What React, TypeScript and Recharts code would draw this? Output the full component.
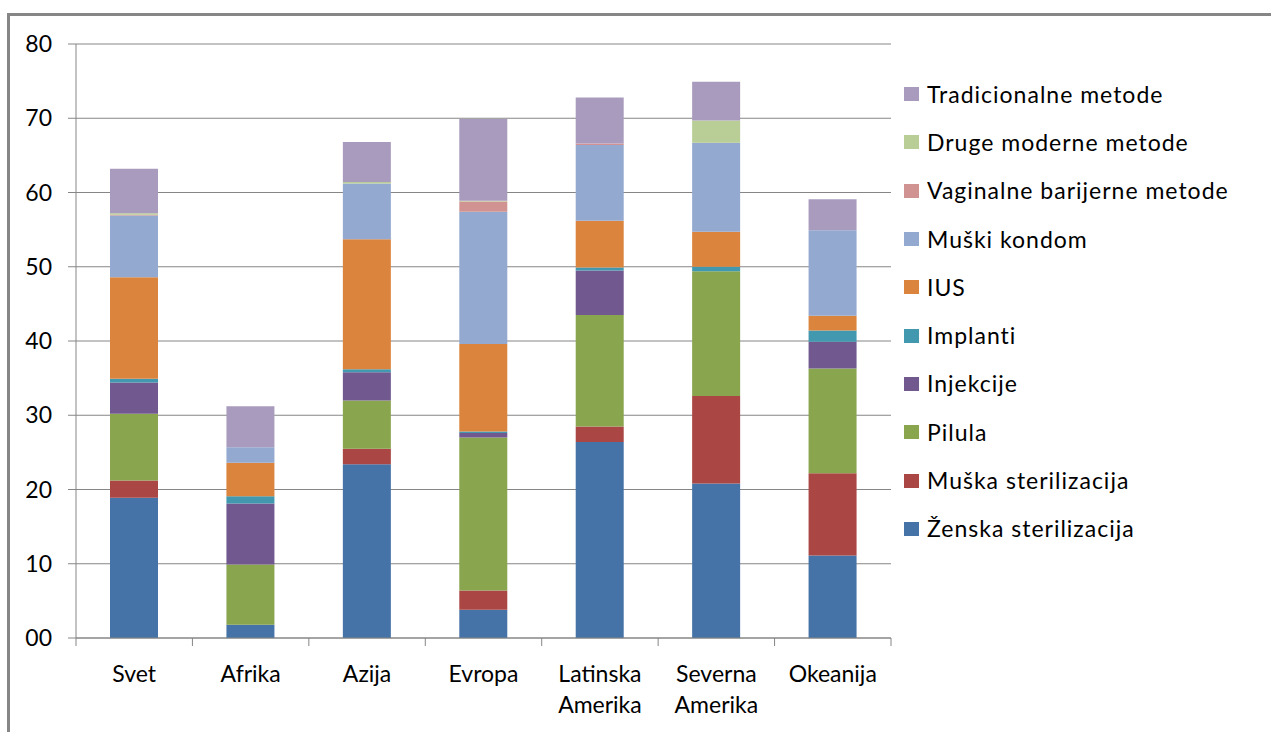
import React from 'react';
import { BarChart, Bar, XAxis, YAxis, CartesianGrid } from 'recharts';

// Regions on the category axis
const categories = ['Svet', 'Afrika', 'Azija', 'Evropa', 'Latinska Amerika', 'Severna Amerika', 'Okeanija'];

// Share of users by method, one value per region (stacked bottom to top)
const zenskaSterilizacija = [18.9, 1.8, 23.4, 3.8, 26.4, 20.8, 11.1];
const muskaSterilizacija = [2.3, 0, 2.1, 2.6, 2.1, 11.8, 11.1];
const pilula = [9.0, 8.1, 6.5, 20.6, 15.0, 16.8, 14.1];
const injekcije = [4.2, 8.2, 3.8, 0.6, 6.0, 0, 3.6];
const implanti = [0.5, 1.0, 0.4, 0.2, 0.4, 0.6, 1.5];
const ius = [13.7, 4.5, 17.5, 11.8, 6.3, 4.7, 2.0];
const muskiKondom = [8.3, 2.1, 7.5, 17.8, 10.2, 12.0, 11.5];
const vaginalneBarijerne = [0.1, 0, 0, 1.4, 0.2, 0, 0];
const drugeModerne = [0.2, 0, 0.2, 0.1, 0, 3.0, 0];
const tradicionalne = [6.0, 5.5, 5.4, 11.0, 6.2, 5.2, 4.2];

// Value axis ticks and their printed labels
const yTicks = [0, 10, 20, 30, 40, 50, 60, 70, 80];
const yTickLabels = ['00', '10', '20', '30', '40', '50', '60', '70', '80'];

const series = [
  { key: 'zenska', name: 'Ženska sterilizacija', values: zenskaSterilizacija, color: '#4572A7' },
  { key: 'muska', name: 'Muška sterilizacija', values: muskaSterilizacija, color: '#AA4643' },
  { key: 'pilula', name: 'Pilula', values: pilula, color: '#89A54E' },
  { key: 'injekcije', name: 'Injekcije', values: injekcije, color: '#71588F' },
  { key: 'implanti', name: 'Implanti', values: implanti, color: '#4198AF' },
  { key: 'ius', name: 'IUS', values: ius, color: '#DB843D' },
  { key: 'kondom', name: 'Muški kondom', values: muskiKondom, color: '#93A9CF' },
  { key: 'vaginalne', name: 'Vaginalne barijerne metode', values: vaginalneBarijerne, color: '#D19392' },
  { key: 'druge', name: 'Druge moderne metode', values: drugeModerne, color: '#B9CD96' },
  { key: 'tradicionalne', name: 'Tradicionalne metode', values: tradicionalne, color: '#A99BBD' },
];

const data = categories.map((name, i) => {
  const row: Record<string, string | number> = { name };
  series.forEach((s) => {
    row[s.key] = s.values[i];
  });
  return row;
});

const WIDTH = 1271;
const HEIGHT = 732;
const MARGIN = { top: 44, right: 380, left: 16, bottom: 0 };
const Y_AXIS_W = 60;
const X_AXIS_H = 94;
const PLOT_W = WIDTH - MARGIN.left - Y_AXIS_W - MARGIN.right;
const BAND = PLOT_W / categories.length;
const AXIS_COLOR = '#868686';
const FONT = 'Lato, "Open Sans", sans-serif';
const FONT_SIZE = 23;

const CategoryTick = (props: any) => {
  const { x, y, payload, index } = props;
  const half = BAND / 2;
  const words = String(payload.value).split(' ');
  const isLast = index === categories.length - 1;
  return (
    <g>
      <line x1={x - half} x2={x - half} y1={y} y2={y + 8} stroke={AXIS_COLOR} strokeWidth={1} />
      {isLast && <line x1={x + half} x2={x + half} y1={y} y2={y + 8} stroke={AXIS_COLOR} strokeWidth={1} />}
      {words.map((w, i) => (
        <text
          key={i}
          x={x}
          y={y + 44 + i * 31}
          textAnchor="middle"
          fill="#000"
          fontSize={FONT_SIZE}
          fontFamily={FONT}
        >
          {w}
        </text>
      ))}
    </g>
  );
};

const legendItems = [...series].reverse();

export default function App() {
  return (
    <div
      style={{
        position: 'fixed',
        left: 0,
        top: 0,
        width: WIDTH,
        height: HEIGHT,
        background: '#fff',
        overflow: 'hidden',
        fontFamily: FONT,
      }}
    >
      <div
        style={{
          position: 'absolute',
          left: 7,
          top: 13,
          width: WIDTH,
          height: HEIGHT,
          borderLeft: `3px solid ${AXIS_COLOR}`,
          borderTop: `3px solid ${AXIS_COLOR}`,
        }}
      />
      <div style={{ position: 'absolute', left: 0, top: 0 }}>
        <BarChart width={WIDTH} height={HEIGHT} data={data} margin={MARGIN}>
          <CartesianGrid horizontal vertical={false} stroke={AXIS_COLOR} strokeWidth={1} />
          <XAxis
            dataKey="name"
            height={X_AXIS_H}
            interval={0}
            tickLine={false}
            tickSize={0}
            tickMargin={0}
            axisLine={{ stroke: AXIS_COLOR, strokeWidth: 1 }}
            tick={<CategoryTick />}
          />
          <YAxis
            width={Y_AXIS_W}
            domain={[0, 80]}
            ticks={yTicks}
            interval={0}
            tickSize={8}
            tickMargin={16}
            axisLine={{ stroke: AXIS_COLOR, strokeWidth: 1 }}
            tickLine={{ stroke: AXIS_COLOR, strokeWidth: 1 }}
            tick={{ fill: '#000', fontSize: FONT_SIZE, fontFamily: FONT }}
            tickFormatter={(v: number) => yTickLabels[yTicks.indexOf(v)]}
          />
          {series.map((s) => (
            <Bar
              key={s.key}
              dataKey={s.key}
              name={s.name}
              stackId="methods"
              fill={s.color}
              barSize={48}
              isAnimationActive={false}
            />
          ))}
        </BarChart>
      </div>
      <div style={{ position: 'absolute', left: 904, top: 70 }}>
        {legendItems.map((s) => (
          <div
            key={s.key}
            style={{ height: 48.3, display: 'flex', alignItems: 'center', whiteSpace: 'nowrap' }}
          >
            <span
              style={{ display: 'inline-block', width: 15, height: 14, background: s.color, marginRight: 8 }}
            />
            <span style={{ fontSize: FONT_SIZE, color: '#000', lineHeight: 1, letterSpacing: 1 }}>{s.name}</span>
          </div>
        ))}
      </div>
    </div>
  );
}
